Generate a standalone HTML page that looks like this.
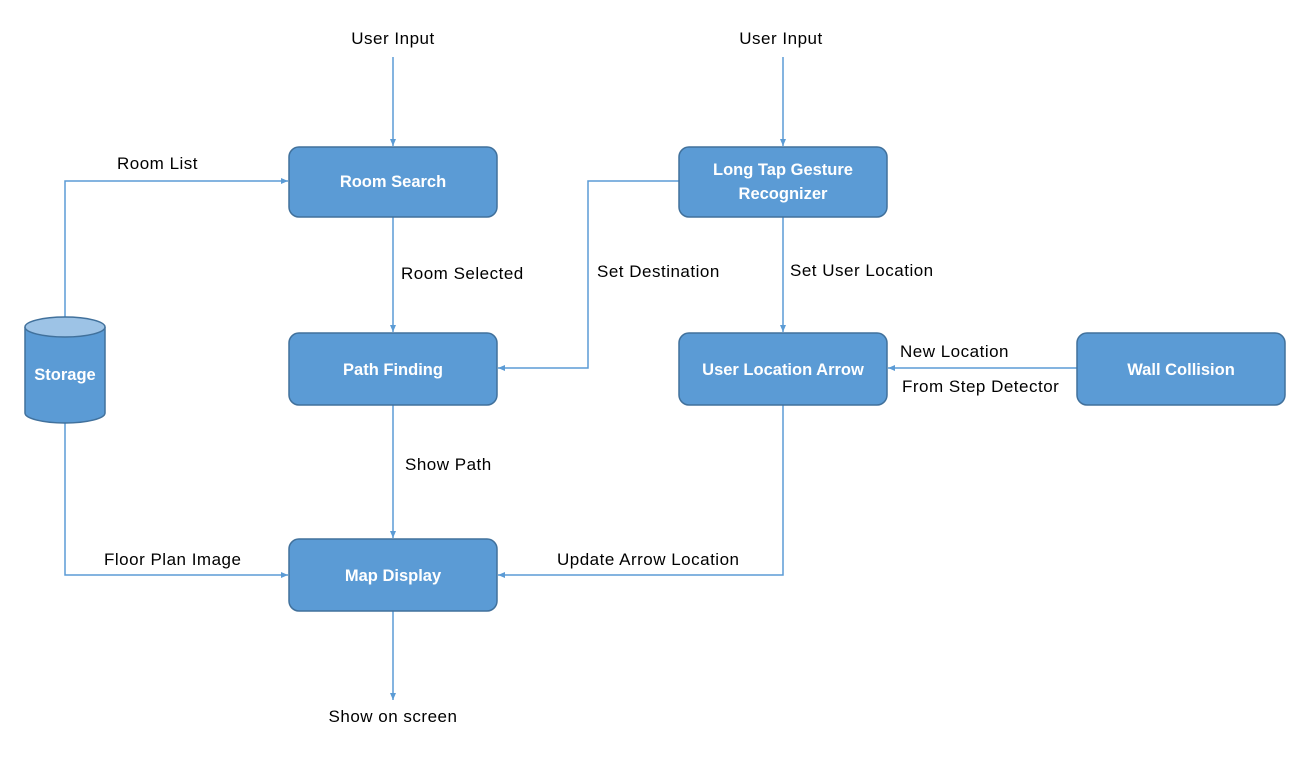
<!DOCTYPE html>
<html><head><style>body{margin:0;background:#fff}</style></head><body>
<svg width="1310" height="766" xmlns="http://www.w3.org/2000/svg" font-family="Liberation Sans, sans-serif">
<defs><marker id="a" markerWidth="8" markerHeight="8" refX="7" refY="4" orient="auto" markerUnits="userSpaceOnUse"><path d="M0,1 L7,4 L0,7 z" fill="#5b9bd5"/></marker></defs>
<g stroke="#5b9bd5" stroke-width="1.5" fill="none" marker-end="url(#a)">
<path d="M393,57 V146"/>
<path d="M783,57 V146"/>
<path d="M65,317 V181 H288"/>
<path d="M393,217 V332"/>
<path d="M679,181 H588 V368 H498"/>
<path d="M783,217 V332"/>
<path d="M1077,368 H888"/>
<path d="M393,405 V538"/>
<path d="M65,423 V575 H288"/>
<path d="M783,405 V575 H498"/>
<path d="M393,611 V700"/>
</g>
<g fill="#5b9bd5" stroke="#41719c" stroke-width="1.5">
<rect x="289" y="147" width="208" height="70" rx="10"/>
<rect x="289" y="333" width="208" height="72" rx="10"/>
<rect x="289" y="539" width="208" height="72" rx="10"/>
<rect x="679" y="147" width="208" height="70" rx="10"/>
<rect x="679" y="333" width="208" height="72" rx="10"/>
<rect x="1077" y="333" width="208" height="72" rx="10"/>
<path d="M25,327 V413 A40,10 0 0 0 105,413 V327"/>
<ellipse cx="65" cy="327" rx="40" ry="10" fill="#9dc3e6"/>
</g>
<g fill="#fff" font-size="16.5" font-weight="bold" text-anchor="middle">
<text x="393" y="187">Room Search</text>
<text x="393" y="375">Path Finding</text>
<text x="393" y="581">Map Display</text>
<text x="783" y="175">Long Tap Gesture</text>
<text x="783" y="199">Recognizer</text>
<text x="783" y="375">User Location Arrow</text>
<text x="1181" y="375">Wall Collision</text>
<text x="65" y="380">Storage</text>
</g>
<g fill="#000" font-size="17" letter-spacing="0.5">
<text x="393" y="44" text-anchor="middle">User Input</text>
<text x="781" y="44" text-anchor="middle">User Input</text>
<text x="117" y="169">Room List</text>
<text x="401" y="279">Room Selected</text>
<text x="597" y="277">Set Destination</text>
<text x="790" y="276">Set User Location</text>
<text x="900" y="357">New Location</text>
<text x="902" y="392">From Step Detector</text>
<text x="405" y="470">Show Path</text>
<text x="104" y="565">Floor Plan Image</text>
<text x="557" y="565">Update Arrow Location</text>
<text x="393" y="722" text-anchor="middle">Show on screen</text>
</g>
</svg>
</body></html>
